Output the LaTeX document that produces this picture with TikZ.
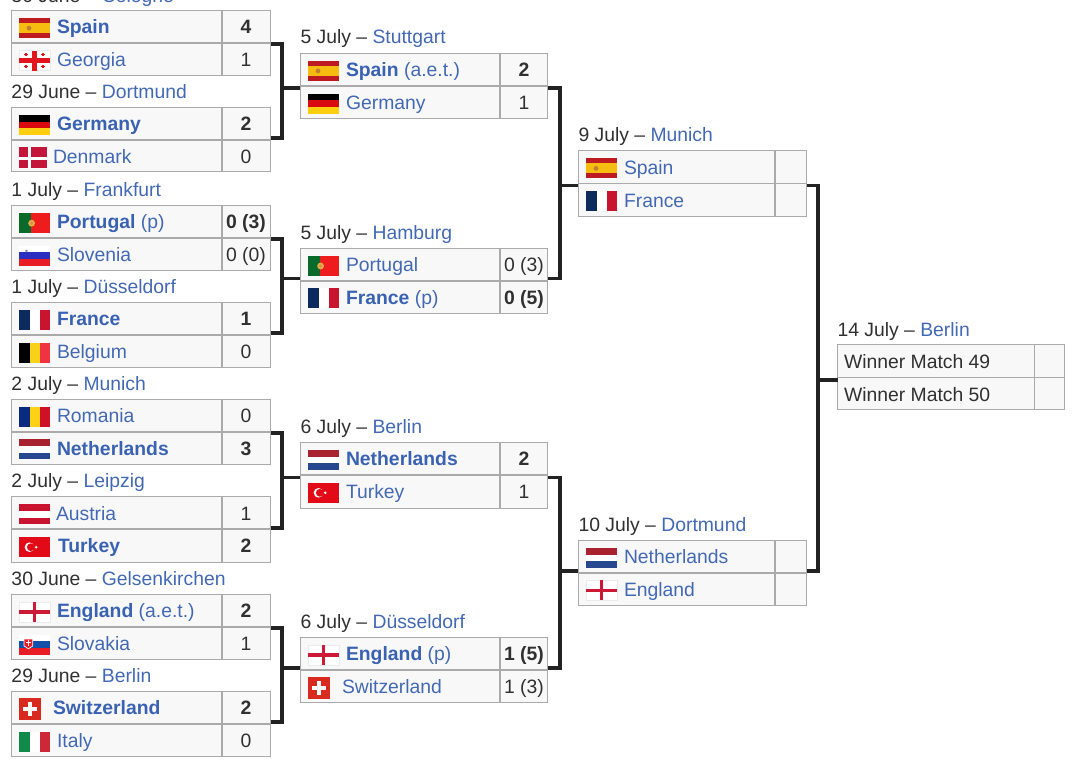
\documentclass[tikz,border=0pt]{standalone}
\usepackage{fontspec}
\setmainfont{Liberation Sans}
\definecolor{linkc}{HTML}{4369B5}
\definecolor{boldc}{HTML}{3A62B3}
\definecolor{txtc}{HTML}{303030}
\definecolor{cellc}{HTML}{F8F8F8}
\definecolor{edgec}{HTML}{AAAAAA}
\definecolor{connc}{HTML}{222222}
\definecolor{esred}{HTML}{BE1A22}
\definecolor{esyel}{HTML}{F6BC10}
\definecolor{esbrn}{HTML}{C08030}
\definecolor{gered}{HTML}{E2141E}
\definecolor{deyel}{HTML}{FFCE10}
\definecolor{dered}{HTML}{D80A10}
\definecolor{dkred}{HTML}{C3163A}
\definecolor{ptgrn}{HTML}{0A6A2C}
\definecolor{ptred}{HTML}{EE1C1C}
\definecolor{ptyel}{HTML}{E2B040}
\definecolor{ptinn}{HTML}{D88A60}
\definecolor{siblu}{HTML}{2A2FC0}
\definecolor{sired}{HTML}{E81C24}
\definecolor{frnav}{HTML}{0C2A5E}
\definecolor{frred}{HTML}{C8142E}
\definecolor{beyel}{HTML}{F8D218}
\definecolor{bered}{HTML}{EF3340}
\definecolor{roblu}{HTML}{0A2A80}
\definecolor{royel}{HTML}{FCD116}
\definecolor{rored}{HTML}{CE1126}
\definecolor{nlred}{HTML}{A8222F}
\definecolor{nlblu}{HTML}{27478F}
\definecolor{atred}{HTML}{C8142E}
\definecolor{trred}{HTML}{E30A17}
\definecolor{enred}{HTML}{CC1A36}
\definecolor{skblu}{HTML}{1050A8}
\definecolor{skred}{HTML}{E81C24}
\definecolor{chred}{HTML}{D82A1E}
\definecolor{itgrn}{HTML}{108A48}
\definecolor{itred}{HTML}{CD2838}
\tikzset{
  matchbox/.style={draw=edgec,line width=1pt,fill=cellc,inner sep=0pt,outer sep=0pt},
  sepline/.style={draw=edgec,line width=1.7pt},
  conn/.style={draw=connc,line width=3.6pt,line join=miter,line cap=butt},
  teamtxt/.style={anchor=base west,inner sep=0pt,outer sep=0pt,font=\fontsize{19.35}{22}\selectfont,text=linkc},
  scoretxt/.style={anchor=base,inner sep=0pt,outer sep=0pt,font=\fontsize{19.35}{22}\selectfont,text=txtc},
  datetxt/.style={anchor=base west,inner sep=0pt,outer sep=0pt,yshift=-0.7pt,font=\fontsize{19.35}{22}\selectfont,text=txtc},
}
% flags: origin at left edge, vertical centre
\newcommand\flagat[2]{\begin{scope}[shift={(#1)}]#2\end{scope}}
\newcommand\hbands[3]{%
  \fill[#1] (0,-10) rectangle (31,-3.3);\fill[#2] (0,-3.3) rectangle (31,3.3);\fill[#3] (0,3.3) rectangle (31,10);}
\newcommand\vbands[3]{%
  \fill[#1] (0,-10) rectangle (10.6,10);\fill[#2] (10.6,-10) rectangle (20.7,10);\fill[#3] (20.7,-10) rectangle (31,10);}
\newcommand\flES{\fill[esred] (0,-10) rectangle (31,10);\fill[esyel] (0,-5) rectangle (31,5);\fill[esbrn] (10,0) circle (2.4);}
\newcommand\flGE{\fill[white] (0,-10) rectangle (31,10);\draw[black!8,line width=.5pt] (0,-10) rectangle (31,10);\fill[gered] (13.4,-10) rectangle (17.6,10);\fill[gered] (0,-2.1) rectangle (31,2.1);
  \foreach \a/\b in {7/-6,24/-6,7/6,24/6}{\fill[gered] (\a-.6,\b-1.8) rectangle (\a+.6,\b+1.8);\fill[gered] (\a-1.8,\b-.6) rectangle (\a+1.8,\b+.6);}}
\newcommand\flDE{\hbands{black}{dered}{deyel}}
\newcommand\flDK{\fill[dkred] (0,-10) rectangle (27.5,11);\fill[white] (9.2,-10) rectangle (11.8,11);\fill[white] (0,-.3) rectangle (27.5,2.3);}
\newcommand\flPT{\fill[ptred] (0,-10) rectangle (31,10);\fill[ptgrn] (0,-10) rectangle (11.5,10);\fill[ptyel] (12.6,0) circle (3.4);\fill[ptinn] (12.6,0) circle (1.7);}
\newcommand\flSI{\hbands{white}{siblu}{sired}\fill[siblu] (5,-3.3) -- (9.8,-3.3) -- (7.4,-.4) -- cycle;\fill[siblu!60!white] (7.4,-4.6) circle (1.4);}
\newcommand\flFR{\vbands{frnav}{white}{frred}}
\newcommand\flBE{\vbands{black}{beyel}{bered}}
\newcommand\flRO{\vbands{roblu}{royel}{rored}}
\newcommand\flNL{\hbands{nlred}{white}{nlblu}}
\newcommand\flAT{\hbands{atred}{white}{atred}}
\newcommand\flTR{\fill[trred] (0,-10) rectangle (31,10);\fill[white] (10.5,0) circle (4.8);\fill[trred] (11.8,0) circle (3.9);\fill[white] (17.3,0) circle (1.4);}
\newcommand\flEN{\fill[white] (0,-10) rectangle (31,10);\draw[black!8,line width=.5pt] (0,-10) rectangle (31,10);\fill[enred] (13.7,-10) rectangle (17.3,10);\fill[enred] (0,-1.8) rectangle (31,1.8);}
\newcommand\flSK{\hbands{white}{skblu}{skred}\fill[white] (4.6,-6) -- (14.2,-6) -- (14.2,1.5) -- (9.4,4.6) -- (4.6,1.5) -- cycle;\fill[skred] (5.4,-5.2) -- (13.4,-5.2) -- (13.4,1) -- (9.4,3.6) -- (5.4,1) -- cycle;\fill[white] (8.7,-4.5) rectangle (10.1,1.5);\fill[white] (7,-2.6) rectangle (11.8,-1.2);}
\newcommand\flCH{\fill[chred] (0,-11) rectangle (22.3,11);\fill[white] (9.2,-7) rectangle (13.1,7);\fill[white] (4.2,-2) rectangle (18.1,2);}
\newcommand\flIT{\vbands{itgrn}{white}{itred}}
% table body: name, left, divider, right, top, bottom
\newcommand\matchtbl[6]{%
  \pgfmathsetmacro\mw{#4-#2}\pgfmathsetmacro\mh{#6-#5}%
  \pgfmathsetmacro\mx{(#2+#4)/2}\pgfmathsetmacro\my{(#5+#6)/2}%
  \node[matchbox,minimum width=\mw pt,minimum height=\mh pt] (#1) at (\mx,\my) {};
  \draw[sepline] (#1.west) -- (#1.east);
  \draw[sepline] (#3,#5) -- (#3,#6);}
% row: node prefix, flag, flag-x, row-centre, text-x, text, score-x, score
\newcommand\tmrow[8]{%
  \pgfmathsetmacro\fy{#4+1.4}\pgfmathsetmacro\ty{#4+7.1}%
  \ifx\relax#2\relax\else\flagat{#3,\fy}{#2}\fi
  \node[teamtxt] (#1t) at (#5,\ty) {#6};
  \node[scoretxt] (#1s) at (#7,\ty) {#8};}
\newcommand\wn[1]{\textbf{\textcolor{boldc}{#1}}}
\newcommand\dt[5]{\node[datetxt] (#1) at (#2,#3) {#4 – \textcolor{linkc}{#5}};}
\begin{document}
\begin{tikzpicture}[x=1pt,y=-1pt]
\useasboundingbox (0,0) rectangle (1090,775);
\fill[white] (0,0) rectangle (1090,775);
% --- connector junctions (top, bottom, stem)
\coordinate (j1t) at (282,44);    \coordinate (j1b) at (282,138);   \coordinate (j1) at (282,88.3);
\coordinate (j2t) at (282,239.3); \coordinate (j2b) at (282,333);   \coordinate (j2) at (282,278.7);
\coordinate (j3t) at (282,433.3); \coordinate (j3b) at (282,527.7); \coordinate (j3) at (282,477.3);
\coordinate (j4t) at (282,628);   \coordinate (j4b) at (282,721.7); \coordinate (j4) at (282,667.7);
\coordinate (k1t) at (560,88.3);  \coordinate (k1b) at (560,278.7); \coordinate (k1) at (560,185.7);
\coordinate (k2t) at (560,477.3); \coordinate (k2b) at (560,667.7); \coordinate (k2) at (560,571);
\coordinate (l1t) at (817.8,185.7); \coordinate (l1b) at (817.8,571); \coordinate (l1) at (817.8,380);
% --- tables
\matchtbl{a1}{11.5}{222}{270.5}{10.5}{75.5}
\matchtbl{a2}{11.5}{222}{270.5}{107.5}{172}
\matchtbl{a3}{11.5}{222}{270.5}{205.5}{270.5}
\matchtbl{a4}{11.5}{222}{270.5}{302.5}{367.5}
\matchtbl{a5}{11.5}{222}{270.5}{399.5}{464}
\matchtbl{a6}{11.5}{222}{270.5}{496.5}{562}
\matchtbl{a7}{11.5}{222}{270.5}{594.5}{659.5}
\matchtbl{a8}{11.5}{222}{270.5}{691.5}{756.5}
\matchtbl{b1}{300.4}{500}{547.7}{53.3}{118.3}
\matchtbl{b2}{300.4}{500}{547.7}{248.4}{313.4}
\matchtbl{b3}{300.4}{500}{547.7}{442.4}{508}
\matchtbl{b4}{300.4}{500}{547.7}{637.4}{702.4}
\matchtbl{c1}{578.4}{775}{806.6}{150.4}{216.4}
\matchtbl{c2}{578.4}{775}{806.6}{540.3}{605.3}
\matchtbl{d1}{837.5}{1034.5}{1064.5}{345}{410}
% --- connectors
\draw[conn] (a1.east |- j1t) -- (j1t) -- (j1b) -- (a2.east |- j1b);
\draw[conn] (j1) -- (b1.west |- j1);
\draw[conn] (a3.east |- j2t) -- (j2t) -- (j2b) -- (a4.east |- j2b);
\draw[conn] (j2) -- (b2.west |- j2);
\draw[conn] (a5.east |- j3t) -- (j3t) -- (j3b) -- (a6.east |- j3b);
\draw[conn] (j3) -- (b3.west |- j3);
\draw[conn] (a7.east |- j4t) -- (j4t) -- (j4b) -- (a8.east |- j4b);
\draw[conn] (j4) -- (b4.west |- j4);
\draw[conn] (b1.east |- k1t) -- (k1t) -- (k1b) -- (b2.east |- k1b);
\draw[conn] (k1) -- (c1.west |- k1);
\draw[conn] (b3.east |- k2t) -- (k2t) -- (k2b) -- (b4.east |- k2b);
\draw[conn] (k2) -- (c2.west |- k2);
\draw[conn] (c1.east |- l1t) -- (l1t) -- (l1b) -- (c2.east |- l1b);
\draw[conn] (l1) -- (d1.west |- l1);
% --- dates
\dt{la1}{11.5}{1.5}{30 June}{Cologne}
\dt{la2}{11.5}{97.5}{29 June}{Dortmund}
\dt{la3}{11.5}{195.5}{1 July}{Frankfurt}
\dt{la4}{11.5}{292.5}{1 July}{Düsseldorf}
\dt{la5}{11.5}{389.7}{2 July}{Munich}
\dt{la6}{11.5}{486.7}{2 July}{Leipzig}
\dt{la7}{11.5}{584.7}{30 June}{Gelsenkirchen}
\dt{la8}{11.5}{681.7}{29 June}{Berlin}
\dt{lb1}{300.5}{43}{5 July}{Stuttgart}
\dt{lb2}{300.5}{239}{5 July}{Hamburg}
\dt{lb3}{300.5}{433}{6 July}{Berlin}
\dt{lb4}{300.5}{628}{6 July}{Düsseldorf}
\dt{lc1}{578.5}{140.7}{9 July}{Munich}
\dt{lc2}{578.5}{530.7}{10 July}{Dortmund}
\dt{ld1}{837.5}{335.7}{14 July}{Berlin}
% --- rows
\tmrow{r1}{\flES}{19}{26.8}{57}{\wn{Spain}}{246}{\textbf{4}}
\tmrow{r2}{\flGE}{19}{59.2}{57}{Georgia}{246}{1}
\tmrow{r3}{\flDE}{19}{123.5}{57}{\wn{Germany}}{246}{\textbf{2}}
\tmrow{r4}{\flDK}{19}{156}{53}{Denmark}{246}{0}
\tmrow{r5}{\flPT}{19}{221.8}{57}{\wn{Portugal} (p)}{246}{\textbf{0 (3)}}
\tmrow{r6}{\flSI}{19}{254.2}{57}{Slovenia}{246}{0 (0)}
\tmrow{r7}{\flFR}{19}{318.8}{57}{\wn{France}}{246}{\textbf{1}}
\tmrow{r8}{\flBE}{19}{351.2}{57}{Belgium}{246}{0}
\tmrow{r9}{\flRO}{19}{415.6}{57}{Romania}{246}{0}
\tmrow{r10}{\flNL}{19}{448}{57}{\wn{Netherlands}}{246}{\textbf{3}}
\tmrow{r11}{\flAT}{19}{513}{56}{Austria}{246}{1}
\tmrow{r12}{\flTR}{19}{545.8}{58}{\wn{Turkey}}{246}{\textbf{2}}
\tmrow{r13}{\flEN}{19}{610.8}{57}{\wn{England} (a.e.t.)}{246}{\textbf{2}}
\tmrow{r14}{\flSK}{19}{643.2}{57}{Slovakia}{246}{1}
\tmrow{r15}{\flCH}{19}{707.8}{53}{\wn{Switzerland}}{246}{\textbf{2}}
\tmrow{r16}{\flIT}{19}{740.2}{57}{Italy}{246}{0}
\tmrow{q1}{\flES}{308}{69.5}{346}{\wn{Spain} (a.e.t.)}{524}{\textbf{2}}
\tmrow{q2}{\flDE}{308}{102.2}{346}{Germany}{524}{1}
\tmrow{q3}{\flPT}{308}{264.6}{346}{Portugal}{524}{0 (3)}
\tmrow{q4}{\flFR}{308}{297}{346}{\wn{France} (p)}{524}{\textbf{0 (5)}}
\tmrow{q5}{\flNL}{308}{458.6}{346}{\wn{Netherlands}}{524}{\textbf{2}}
\tmrow{q6}{\flTR}{308}{491.4}{346}{Turkey}{524}{1}
\tmrow{q7}{\flEN}{308}{653.6}{346}{\wn{England} (p)}{524}{\textbf{1 (5)}}
\tmrow{q8}{\flCH}{308}{686.2}{342}{Switzerland}{524}{1 (3)}
\tmrow{s1}{\flES}{586}{167}{624}{Spain}{791}{}
\tmrow{s2}{\flFR}{586}{200}{624}{France}{791}{}
\tmrow{s3}{\flNL}{586}{556.6}{624}{Netherlands}{791}{}
\tmrow{s4}{\flEN}{586}{589}{624}{England}{791}{}
\tmrow{f1}{}{844}{361.5}{844}{\textcolor{txtc}{Winner Match 49}}{1050}{}
\tmrow{f2}{}{844}{394}{844}{\textcolor{txtc}{Winner Match 50}}{1050}{}
\end{tikzpicture}
\end{document}
